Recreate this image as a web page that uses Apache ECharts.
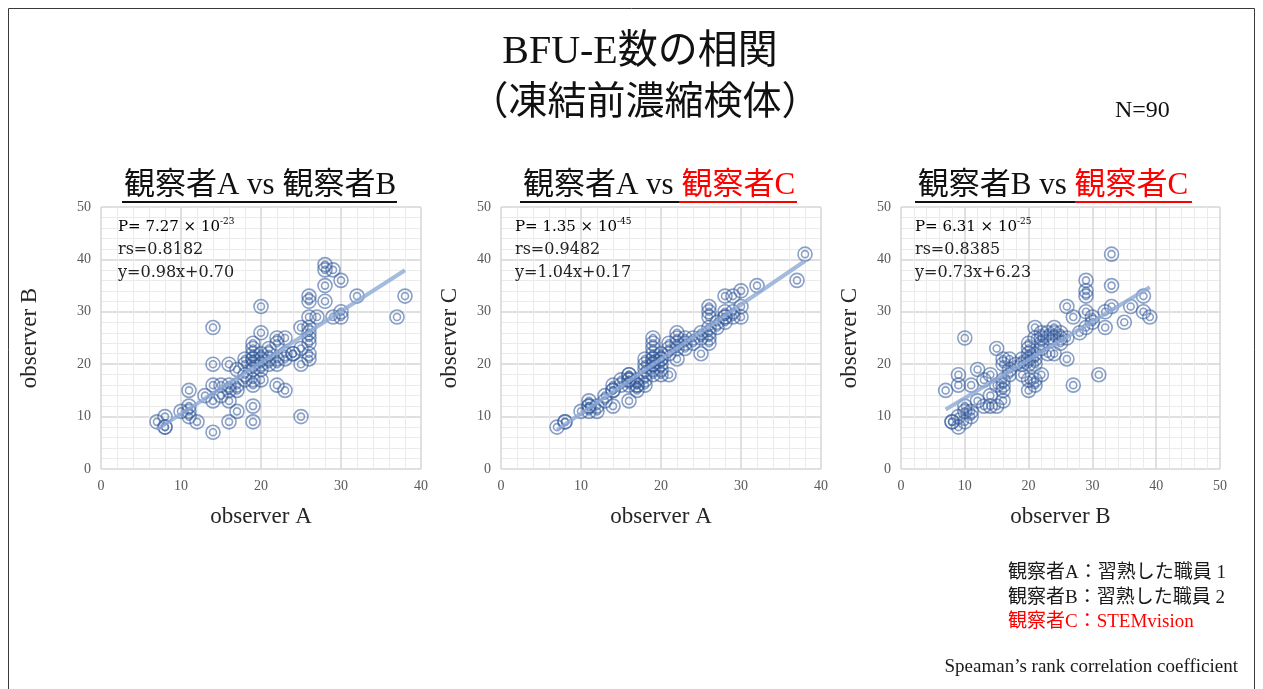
<!DOCTYPE html>
<html><head><meta charset="utf-8">
<script src="https://cdn.jsdelivr.net/npm/echarts@6/dist/echarts.min.js"></script>
<style>html,body{margin:0;padding:0;background:#fff}#c{width:1263px;height:689px}</style>
</head><body><div id="c"></div>
<script>
// ---- data ----
const abA = [7,8,8,8,10,11,11,11,11,12,13,14,14,14,14,14,15,16,16,16,16,16,17,17,17,18,18,18,19,19,19,19,19,19,19,19,19,19,20,20,20,20,20,21,21,21,22,22,22,22,22,23,23,23,24,25,25,25,25,26,26,26,26,26,26,26,26,27,28,28,28,28,29,29,30,30,30,32,37,38,18,19,20,21,15,17,20,24,26,23];
const abB = [9,8,8,10,11,11,12,15,10,9,14,13,16,20,27,7,16,16,15,13,20,9,15,11,19,17,20,21,24,23,22,21,20,19,16,12,9,17,31,26,21,20,17,22,23,20,25,20,21,16,24,25,15,21,22,27,23,20,10,33,32,29,27,26,24,22,21,29,39,38,35,32,38,29,36,30,29,33,29,33,18,21,22,21,14,16,19,22,25,22];
const acA = [7,8,8,10,11,11,11,12,13,14,14,14,15,16,16,16,17,17,17,18,18,18,18,18,19,19,19,19,19,19,19,20,20,20,21,21,21,22,22,22,22,23,23,24,25,25,26,26,26,26,26,26,27,28,28,28,28,29,29,30,30,30,32,37,38,11,12,14,15,16,16,17,18,19,19,20,20,21,22,23,24,25,26,27,28,29,19,20,13,16];
const acC = [8,9,9,11,11,12,13,11,14,15,16,12,17,17,18,13,16,15,17,19,20,21,16,17,25,24,22,21,20,19,18,18,21,22,18,23,24,26,24,21,25,24,23,25,26,22,31,30,29,27,25,24,27,33,29,30,28,33,30,34,31,29,35,36,41,12,12,15,16,17,16,16,18,21,23,20,19,22,23,25,24,25,26,28,29,29,20,21,13,18];
const bcB = [7,8,8,9,9,9,9,10,10,10,11,11,12,12,13,13,14,14,15,15,15,16,16,16,16,16,16,17,17,18,19,19,20,20,20,20,20,20,21,21,21,21,21,21,22,22,22,22,23,23,24,24,24,25,25,26,26,27,27,28,29,29,29,29,29,30,31,32,32,33,33,33,35,36,38,38,39,10,11,14,17,19,20,21,22,23,24,25,26,30];
const bcC = [15,9,9,18,16,8,10,25,9,12,16,11,19,13,17,12,18,14,23,16,12,21,20,17,16,15,13,21,19,20,18,20,24,23,22,21,15,17,27,25,21,20,16,17,25,24,23,18,26,22,27,26,22,26,25,31,21,29,16,26,36,34,33,30,27,29,18,30,27,41,35,31,28,31,33,30,29,11,10,12,18,21,20,22,26,25,25,24,25,28];

const slopes = [0.98, 1.04, 0.73];
const intercepts = [0.70, 0.17, 6.23];
const pValues = ['7.27', '1.35', '6.31'];
const pExps = ['-23', '-45', '-25'];
const rsValues = ['0.8182', '0.9482', '0.8385'];
const eqTexts = ['y=0.98x+0.70', 'y=1.04x+0.17', 'y=0.73x+6.23'];
const xMaxes = [40, 40, 50];
const yMax = 50;
const tickInterval = 10;
const xNames = ['observer A', 'observer A', 'observer B'];
const yNames = ['observer B', 'observer C', 'observer C'];

// ---- layout ----
const SERIF = "'Liberation Serif','Noto Sans CJK JP',serif";
const ANNOT = "'DejaVu Serif',serif";
const gridLefts = [101, 501, 901];
const gridWidths = [320, 320, 319];
const yNameGaps = [60, 40, 40];
const RING = 'rgba(52,90,156,0.72)';

const sets = [[abA, abB], [acA, acC], [bcB, bcC]];

const grids = [], xAxes = [], yAxes = [], series = [];
sets.forEach((s, i) => {
  grids.push({left: gridLefts[i], top: 207, width: gridWidths[i], height: 262, containLabel: false});
  const common = {
    gridIndex: i, type: 'value', min: 0, interval: tickInterval,
    axisLine: {show: false}, axisTick: {show: false},
    axisLabel: {color: '#595959', fontFamily: SERIF, fontSize: 14, margin: 10},
    splitLine: {show: true, lineStyle: {color: '#d6d6d6', width: 1.5}},
    minorTick: {show: false, splitNumber: 5},
    minorSplitLine: {show: true, lineStyle: {color: '#ebebeb', width: 1}},
    nameLocation: 'middle',
    nameTextStyle: {fontFamily: SERIF, fontSize: 23, color: '#262626'}
  };
  xAxes.push(Object.assign({}, common, {max: xMaxes[i], name: xNames[i], nameGap: 36}));
  yAxes.push(Object.assign({}, common, {max: yMax, name: yNames[i], nameGap: yNameGaps[i], nameRotate: 90}));
  const xs = s[0], ys = s[1];
  const pts = xs.map((x, k) => [x, ys[k]]);
  const x0 = Math.min(...xs), x1 = Math.max(...xs);
  series.push({
    type: 'scatter', xAxisIndex: i, yAxisIndex: i, data: pts, symbol: 'circle', symbolSize: 14,
    itemStyle: {color: 'rgba(0,0,0,0)', borderColor: RING, borderWidth: 1.6}, silent: true, z: 2
  });
  series.push({
    type: 'scatter', xAxisIndex: i, yAxisIndex: i, data: pts, symbol: 'circle', symbolSize: 7,
    itemStyle: {color: 'rgba(0,0,0,0)', borderColor: RING, borderWidth: 1.6}, silent: true, z: 2
  });
  series.push({
    type: 'line', xAxisIndex: i, yAxisIndex: i, showSymbol: false, silent: true, z: 3,
    data: [[x0, slopes[i] * x0 + intercepts[i]], [x1, slopes[i] * x1 + intercepts[i]]],
    lineStyle: {color: '#8eaad6', width: 4, opacity: 0.8}
  });
});

const graphic = [];
// frame
graphic.push({type: 'rect', shape: {x: 8.5, y: 8.5, width: 1246, height: 700}, style: {fill: 'none', stroke: '#3a3a3a', lineWidth: 1}, silent: true});
// titles
graphic.push({type: 'text', x: 640, y: 52, style: {text: 'BFU-E数の相関', font: "40px " + SERIF, fill: '#111', align: 'center', verticalAlign: 'middle'}});
graphic.push({type: 'text', x: 645, y: 104, style: {text: '（凍結前濃縮検体）', font: "39px " + SERIF, fill: '#111', align: 'center', verticalAlign: 'middle'}});
graphic.push({type: 'text', x: 1115, y: 111, style: {text: 'N=90', font: "24px " + SERIF, fill: '#111', align: 'left', verticalAlign: 'middle'}});

// subtitles
const subCenters = [260, 659, 1053];
const subLeft = ['観察者A vs ', '観察者A vs ', '観察者B vs '];
const subRight = ['観察者B', '観察者C', '観察者C'];
const subRightColor = ['#111', '#ff0000', '#ff0000'];
const ulines = [[122, 397, 397], [520, 679, 797], [915, 1075, 1192]];
for (let i = 0; i < 3; i++) {
  graphic.push({type: 'text', x: subCenters[i], y: 186, style: {
    text: '{a|' + subLeft[i] + '}{b|' + subRight[i] + '}', align: 'center', verticalAlign: 'middle',
    rich: {a: {fontFamily: SERIF, fontSize: 31, fill: '#111', color: '#111'}, b: {fontFamily: SERIF, fontSize: 31, color: subRightColor[i], fill: subRightColor[i]}}
  }});
  const u = ulines[i];
  graphic.push({type: 'line', shape: {x1: u[0], y1: 202, x2: u[1], y2: 202}, style: {stroke: '#111', lineWidth: 1.8}});
  if (u[2] > u[1]) graphic.push({type: 'line', shape: {x1: u[1], y1: 202, x2: u[2], y2: 202}, style: {stroke: '#ff0000', lineWidth: 1.8}});
  const ax = gridLefts[i] + (i === 0 ? 17 : 14);
  graphic.push({type: 'text', x: ax, y: 227, z: 10, style: {
    text: '{n|P= ' + pValues[i] + ' × 10}{s|' + pExps[i] + '}', align: 'left', verticalAlign: 'middle',
    rich: {n: {fontFamily: ANNOT, fontSize: 15, color: '#222', lineHeight: 20}, s: {fontFamily: ANNOT, fontSize: 9, color: '#222', verticalAlign: 'top'}}
  }});
  graphic.push({type: 'text', x: ax, y: 250, z: 10, style: {text: 'rs=' + rsValues[i], font: "16px " + ANNOT, fill: '#222', align: 'left', verticalAlign: 'middle'}});
  graphic.push({type: 'text', x: ax, y: 273, z: 10, style: {text: eqTexts[i], font: "16px " + ANNOT, fill: '#222', align: 'left', verticalAlign: 'middle'}});
}

// legend notes
const notes = ['観察者A：習熟した職員 1', '観察者B：習熟した職員 2', '観察者C：STEMvision'];
const noteColors = ['#1a1a1a', '#1a1a1a', '#ff0000'];
const noteY = [573, 598, 622];
notes.forEach((t, i) => graphic.push({type: 'text', x: 1008, y: noteY[i], style: {text: t, font: "19px " + SERIF, fill: noteColors[i], align: 'left', verticalAlign: 'middle'}}));
graphic.push({type: 'text', x: 1238, y: 667, style: {text: 'Speaman’s rank correlation coefficient', font: "19px " + SERIF, fill: '#1a1a1a', align: 'right', verticalAlign: 'middle'}});

const chart = echarts.init(document.getElementById('c'), null, {renderer: 'canvas'});
chart.setOption({
  animation: false,
  backgroundColor: '#fff',
  grid: grids, xAxis: xAxes, yAxis: yAxes, series: series, graphic: graphic
});
</script></body></html>
